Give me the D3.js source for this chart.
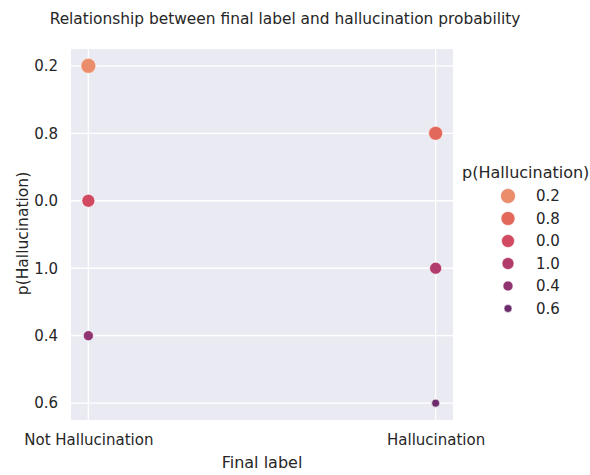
<!DOCTYPE html>
<html>

<head>
  <meta charset="utf-8">
  <style>
    body { margin: 0; background: #fff; }
    text { font-family: "DejaVu Sans", sans-serif; fill: #262626; }
  </style>
</head>

<body>
  <script src="https://d3js.org/d3.v7.min.js"></script>
  <script>
    // categories on each axis, in the order the chart shows them
    var labels = ["Not Hallucination", "Hallucination"];
    var probLevels = ["0.2", "0.8", "0.0", "1.0", "0.4", "0.6"];

    // the points: final label and p(Hallucination) as a category
    var pointLabel = ["Not Hallucination", "Hallucination", "Not Hallucination", "Hallucination", "Not Hallucination", "Hallucination"];
    var pointProb = ["0.2", "0.8", "0.0", "1.0", "0.4", "0.6"];

    var palette = ["#e98d6b", "#e3685c", "#d14a61", "#b13c6b", "#8f3371", "#6c2b6d"];
    var radii = [7.5, 7, 6.5, 6, 5, 4];

    var width = 590,
      height = 475;
    var plot = { left: 71, right: 453, top: 49, bottom: 420 };

    var svg = d3.select("body").append("svg")
      .attr("width", width)
      .attr("height", height);

    // matplotlib categorical axes: 5% margin on each side
    var xSpan = (plot.right - plot.left) / 1.1;
    var x = d3.scalePoint()
      .domain(labels)
      .range([plot.left + xSpan * 0.05, plot.right - xSpan * 0.05]);

    var ySpan = (plot.bottom - plot.top) / 1.1;
    var y = d3.scalePoint()
      .domain(probLevels)
      .range([plot.top + ySpan * 0.05, plot.bottom - ySpan * 0.05]);

    var color = d3.scaleOrdinal().domain(probLevels).range(palette);
    var size = d3.scaleOrdinal().domain(probLevels).range(radii);

    // background
    svg.append("rect")
      .attr("x", plot.left)
      .attr("y", plot.top)
      .attr("width", plot.right - plot.left)
      .attr("height", plot.bottom - plot.top)
      .attr("fill", "#eaeaf2");

    // grid
    svg.append("g").selectAll("line")
      .data(labels)
      .enter().append("line")
      .attr("x1", function(d) { return x(d); })
      .attr("x2", function(d) { return x(d); })
      .attr("y1", plot.top)
      .attr("y2", plot.bottom)
      .attr("stroke", "#fff")
      .attr("stroke-width", 1.3);

    svg.append("g").selectAll("line")
      .data(probLevels)
      .enter().append("line")
      .attr("x1", plot.left)
      .attr("x2", plot.right)
      .attr("y1", function(d) { return y(d); })
      .attr("y2", function(d) { return y(d); })
      .attr("stroke", "#fff")
      .attr("stroke-width", 1.3);

    // axes (no lines, just labels)
    var xAxis = svg.append("g")
      .attr("transform", "translate(0," + plot.bottom + ")")
      .call(d3.axisBottom(x).tickSize(0).tickPadding(14));
    var yAxis = svg.append("g")
      .attr("transform", "translate(" + plot.left + ",0)")
      .call(d3.axisLeft(y).tickSize(0).tickPadding(13));
    [xAxis, yAxis].forEach(function(g) {
      g.select(".domain").remove();
      g.selectAll("text").attr("font-size", 15).attr("fill", "#262626")
        .attr("font-family", "DejaVu Sans, sans-serif");
    });

    // points
    var points = pointLabel.map(function(d, i) {
      return { label: d, prob: pointProb[i] };
    });
    svg.append("g").selectAll("circle")
      .data(points)
      .enter().append("circle")
      .attr("cx", function(d) { return x(d.label); })
      .attr("cy", function(d) { return y(d.prob); })
      .attr("r", function(d) { return size(d.prob); })
      .attr("fill", function(d) { return color(d.prob); })
      .attr("stroke", "#fff")
      .attr("stroke-width", 0.6);

    // titles
    svg.append("text")
      .attr("x", 285)
      .attr("y", 24)
      .attr("text-anchor", "middle")
      .attr("font-size", 15.4)
      .text("Relationship between final label and hallucination probability");

    svg.append("text")
      .attr("x", (plot.left + plot.right) / 2)
      .attr("y", 468)
      .attr("text-anchor", "middle")
      .attr("font-size", 16)
      .text("Final label");

    svg.append("text")
      .attr("transform", "translate(28," + ((plot.top + plot.bottom) / 2 - 1) + ") rotate(-90)")
      .attr("text-anchor", "middle")
      .attr("font-size", 15.5)
      .text("p(Hallucination)");

    // legend
    var legend = svg.append("g").attr("transform", "translate(462,0)");
    legend.append("text")
      .attr("x", 0)
      .attr("y", 178)
      .attr("font-size", 16)
      .text("p(Hallucination)");

    var items = legend.selectAll(".item")
      .data(probLevels)
      .enter().append("g")
      .attr("class", "item")
      .attr("transform", function(d, i) { return "translate(0," + (196 + i * 22.5) + ")"; });
    items.append("circle")
      .attr("cx", 46)
      .attr("r", function(d) { return size(d); })
      .attr("fill", function(d) { return color(d); })
      .attr("stroke", "#fff")
      .attr("stroke-width", 0.6);
    items.append("text")
      .attr("x", 74)
      .attr("dy", "0.35em")
      .attr("font-size", 15)
      .text(function(d) { return d; });
  </script>
</body>

</html>
